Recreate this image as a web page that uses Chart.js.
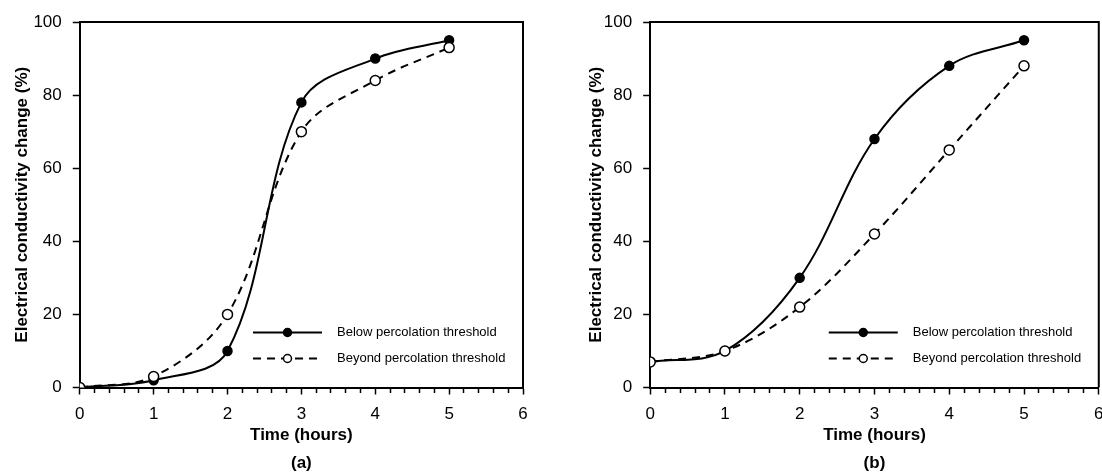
<!DOCTYPE html>
<html>
<head>
<meta charset="utf-8">
<script src="https://cdn.jsdelivr.net/npm/chart.js@4.4.1/dist/chart.umd.min.js"></script>
<style>
  body { margin: 0; width: 1102px; height: 472px; overflow: hidden; background: #fff; }
  .panel { position: absolute; top: 0; height: 472px; }
  #panel-a { left: 0; width: 551px; }
  #panel-b { left: 551px; width: 564px; }
</style>
</head>
<body>
<div class="panel" id="panel-a"><canvas id="grafico-a"></canvas></div>
<div class="panel" id="panel-b"><canvas id="grafico-b"></canvas></div>
<script>
// Datos
const horas = [0, 1, 2, 3, 4, 5];
const belowA = [0, 2, 10, 78, 90, 95];
const beyondA = [0, 3, 20, 70, 84, 93];
const belowB = [7, 10, 30, 68, 88, 95];
const beyondB = [7, 10, 22, 42, 65, 88];
const seriesLabels = ['Below percolation threshold', 'Beyond percolation threshold'];
const xTickLabels = [0, 1, 2, 3, 4, 5, 6];
const yTickLabels = [0, 20, 40, 60, 80, 100];

const familia = "'Liberation Sans', Arial, sans-serif";
Chart.defaults.font.family = familia;
Chart.defaults.color = '#000';

/**
 * Dibuja la leyenda dentro del area del grafico (linea + marcador + texto)
 */
const leyendaInterna = {
  id: 'leyendaInterna',
  afterDatasetsDraw(chart) {
    const { ctx, chartArea } = chart;
    const x0 = chartArea.right - 270;
    const x1 = chartArea.right - 201;
    chart.data.datasets.forEach((ds, i) => {
      const y = chartArea.bottom - 55 + i * 26;
      ctx.save();
      ctx.strokeStyle = ds.borderColor;
      ctx.lineWidth = ds.borderWidth;
      ctx.setLineDash(ds.borderDash || []);
      ctx.beginPath();
      ctx.moveTo(x0, y);
      ctx.lineTo(x1, y);
      ctx.stroke();
      ctx.setLineDash([]);
      ctx.beginPath();
      ctx.arc((x0 + x1) / 2, y, 4, 0, Math.PI * 2);
      ctx.fillStyle = ds.pointBackgroundColor;
      ctx.fill();
      ctx.lineWidth = 1.5;
      ctx.stroke();
      ctx.fillStyle = '#000';
      ctx.font = '13px ' + familia;
      ctx.textBaseline = 'middle';
      ctx.fillText(ds.label, x1 + 15, y);
      ctx.restore();
    });
  }
};

/**
 * Cierra el recuadro del grafico (lados superior y derecho)
 */
const marco = {
  id: 'marco',
  afterDraw(chart) {
    const { ctx, chartArea } = chart;
    ctx.save();
    ctx.strokeStyle = '#000';
    ctx.lineWidth = 2;
    ctx.beginPath();
    ctx.moveTo(chartArea.left, chartArea.top);
    ctx.lineTo(chartArea.right, chartArea.top);
    ctx.lineTo(chartArea.right, chartArea.bottom);
    ctx.stroke();
    ctx.restore();
  }
};

/**
 * Crea uno de los dos paneles
 * @param {string} canvasId - id del canvas
 * @param {Array} below - valores bajo el umbral
 * @param {Array} beyond - valores sobre el umbral
 * @param {string} panel - etiqueta del panel, ej. '(a)'
 * @param {Object} margen - margenes del layout
 * @param {number} ajusteTituloY - ajuste del ancho del titulo del eje y
 */
function crearGrafico(canvasId, below, beyond, panel, margen, ajusteTituloY) {
  const canvas = document.getElementById(canvasId);
  if (!canvas) return;

  const puntos = valores => horas.map((h, i) => ({ x: h, y: valores[i] }));

  return new Chart(canvas, {
    type: 'line',
    data: {
      datasets: [{
        label: seriesLabels[0],
        data: puntos(below),
        borderColor: '#000',
        borderWidth: 2,
        pointBackgroundColor: '#000',
        pointBorderColor: '#000',
        pointBorderWidth: 1.5,
        pointRadius: 4.5,
        tension: 0.35,
        order: 1
      }, {
        label: seriesLabels[1],
        data: puntos(beyond),
        borderColor: '#000',
        borderWidth: 2,
        borderDash: [8, 6],
        pointBackgroundColor: '#fff',
        pointBorderColor: '#000',
        pointBorderWidth: 1.5,
        pointRadius: 5,
        tension: 0.35,
        order: 0
      }]
    },
    options: {
      responsive: true,
      maintainAspectRatio: false,
      animation: false,
      events: [],
      layout: {
        padding: margen
      },
      scales: {
        x: {
          type: 'linear',
          min: xTickLabels[0],
          max: xTickLabels[xTickLabels.length - 1],
          border: { color: '#000', width: 2 },
          grid: {
            drawOnChartArea: false,
            tickLength: 7,
            tickWidth: 1.5,
            tickColor: '#000',
            // ticks menores cortos (cada 0.2 h)
            tickBorderDash: ctx => (Math.abs(ctx.tick.value - Math.round(ctx.tick.value)) < 1e-6 ? [] : [4, 20])
          },
          ticks: {
            stepSize: 0.2,
            autoSkip: false,
            maxRotation: 0,
            padding: 11.5,
            font: { size: 17, lineHeight: 1 },
            callback: v => (Math.abs(v - Math.round(v)) < 1e-6 ? String(Math.round(v)) : '')
          },
          title: {
            display: true,
            text: 'Time (hours)',
            font: { size: 17, weight: 'bold', lineHeight: 1 },
            padding: { top: -7.5, bottom: 0 }
          }
        },
        y: {
          min: yTickLabels[0],
          max: yTickLabels[yTickLabels.length - 1],
          border: { color: '#000', width: 2 },
          grid: {
            drawOnChartArea: false,
            tickLength: 7,
            tickWidth: 1.5,
            tickColor: '#000'
          },
          ticks: {
            stepSize: yTickLabels[1] - yTickLabels[0],
            padding: 11,
            font: { size: 17, lineHeight: 1 }
          },
          title: {
            display: true,
            text: 'Electrical conductivity change (%)',
            font: { size: 17, weight: 'bold', lineHeight: 1.2 },
            padding: { top: 1, bottom: ajusteTituloY }
          }
        }
      },
      plugins: {
        legend: { display: false },
        tooltip: { enabled: false },
        title: {
          display: true,
          position: 'bottom',
          fullSize: false,
          text: panel,
          font: { size: 17, weight: 'bold', lineHeight: 1 },
          padding: { top: 11, bottom: 0 }
        }
      }
    },
    plugins: [leyendaInterna, marco]
  });
}

crearGrafico('grafico-a', belowA, beyondA, '(a)', { left: 11, right: 28, top: 22, bottom: 0 }, -10);
crearGrafico('grafico-b', belowB, beyondB, '(b)', { left: 34, right: 9, top: 22, bottom: 0 }, -13.6);
</script>
</body>
</html>
